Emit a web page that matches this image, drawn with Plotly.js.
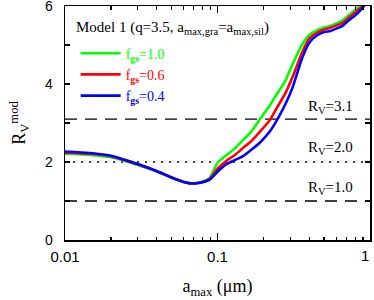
<!DOCTYPE html>
<html>
<head>
<meta charset="utf-8">
<script src="https://cdn.plot.ly/plotly-3.0.1.min.js"></script>
<style>html,body{margin:0;padding:0;background:#fff;overflow:hidden;}#plot{width:374px;height:300px;}</style>
</head>
<body>
<div id="plot"></div>
<script>
// a_max values (micron)
const amax = [0.01, 0.0146, 0.02, 0.025, 0.03, 0.036, 0.042, 0.051, 0.06, 0.069, 0.078, 0.089,
  0.1, 0.115, 0.13, 0.147, 0.165, 0.19, 0.22, 0.246, 0.28, 0.31, 0.36, 0.40, 0.45, 0.50,
  0.55, 0.60, 0.66, 0.72, 0.80, 0.87, 1.0];
const rvF10 = [2.21, 2.18, 2.12, 2.02, 1.92, 1.82, 1.72, 1.58, 1.49, 1.45, 1.49, 1.60,
  1.98, 2.18, 2.35, 2.56, 2.76, 3.10, 3.45, 3.75, 4.10, 4.50, 5.02, 5.26, 5.38, 5.45,
  5.49, 5.55, 5.63, 5.75, 5.90, 6.02, 6.30];
const rvF06 = [2.24, 2.21, 2.15, 2.04, 1.94, 1.83, 1.73, 1.59, 1.49, 1.45, 1.48, 1.57,
  1.83, 2.04, 2.18, 2.36, 2.52, 2.78, 3.07, 3.40, 3.78, 4.17, 4.82, 5.17, 5.32, 5.40,
  5.44, 5.50, 5.57, 5.69, 5.84, 5.96, 6.25];
const rvF04 = [2.27, 2.23, 2.16, 2.05, 1.95, 1.84, 1.73, 1.59, 1.49, 1.45, 1.47, 1.55,
  1.75, 1.95, 2.05, 2.15, 2.30, 2.50, 2.78, 3.08, 3.50, 3.90, 4.68, 5.06, 5.25, 5.33,
  5.36, 5.42, 5.49, 5.62, 5.76, 5.90, 6.20];
const refLevels = [3.1, 2.0, 1.0];
const refLabels = ['R<sub>V</sub>=3.1', 'R<sub>V</sub>=2.0', 'R<sub>V</sub>=1.0'];
const refDash = ['12px,8px', '2px,6px', '12px,8px'];
const seriesNames = ['f<sub><b>gs</b></sub>=1.0', 'f<sub><b>gs</b></sub>=0.6', 'f<sub><b>gs</b></sub>=0.4'];
const seriesColors = ['#00ff00', '#ff0000', '#0000ff'];
const xTickVals = [0.01, 0.1, 1];
const xTickText = ['0.01', '0.1', '1'];
const xMinor = [0.02,0.03,0.04,0.05,0.06,0.07,0.08,0.09,0.2,0.3,0.4,0.5,0.6,0.7,0.8,0.9];

const serif = 'Liberation Serif, Times New Roman, serif';
const sans = 'Liberation Sans, Arial, sans-serif';

const traces = [];
// reference lines
refLevels.forEach((v, i) => {
  traces.push({x: [0.01, 1], y: [v, v], mode: 'lines', showlegend: false, hoverinfo: 'skip',
    line: {color: '#000', width: 1.3, dash: refDash[i]}});
});
[rvF10, rvF06, rvF04].forEach((ys, i) => {
  traces.push({x: amax, y: ys, mode: 'lines', name: '<span style="color:' + seriesColors[i] + '">' + seriesNames[i] + '</span>',
    line: {color: seriesColors[i], width: 2.6, shape: 'spline', smoothing: 0.6}});
});

const annotations = refLevels.map((v, i) => ({
  xref: 'paper', yref: 'y', x: 0.869, y: v + [0.3, 0.36, 0.34][i], xanchor: 'center', yanchor: 'middle',
  text: refLabels[i], showarrow: false,
  font: {family: serif, size: 15, color: '#000'}
}));
annotations.push({xref: 'paper', yref: 'paper', x: 0.03, y: 0.905, xanchor: 'left', yanchor: 'middle',
  text: 'Model 1 (q=3.5, a<sub>max,gra</sub>=a<sub>max,sil</sub>)', showarrow: false,
  font: {family: serif, size: 15, color: '#000'}});
// last x tick label near the right end of the axis
annotations.push({xref: 'paper', yref: 'paper', x: 0.985, y: -0.068,
  xanchor: 'center', yanchor: 'middle', text: xTickText[2], showarrow: false,
  font: {family: sans, size: 15, color: '#000'}});

const layout = {
  width: 374, height: 300,
  margin: {l: 65, r: 4, t: 6, b: 60},
  paper_bgcolor: '#fff', plot_bgcolor: '#fff',
  showlegend: true,
  legend: {x: 0.035, y: 0.865, xanchor: 'left', yanchor: 'top', bgcolor: 'rgba(0,0,0,0)',
    font: {family: serif, size: 14}, tracegroupgap: 0, itemwidth: 40},
  xaxis: {type: 'log', range: [-2, 0], showgrid: false, zeroline: false,
    showline: true, linecolor: '#000', linewidth: 1.5, mirror: 'ticks',
    ticks: 'inside', ticklen: 7, tickwidth: 1.2, tickcolor: '#000',
    tickvals: xTickVals, ticktext: [xTickText[0], xTickText[1], ''], ticklabeloverflow: 'allow', ticklabelstandoff: 2,
    tickfont: {family: sans, size: 15, color: '#000'},
    minor: {tickvals: xMinor, ticks: 'inside', ticklen: 3.5, tickwidth: 1.2, tickcolor: '#000', showgrid: false},
    title: {text: 'a<sub>max</sub> (μm)', font: {family: serif, size: 18, color: '#000'}, standoff: 16}},
  yaxis: {range: [0, 6], showgrid: false, zeroline: false,
    showline: true, linecolor: '#000', linewidth: 1.5, mirror: 'ticks',
    ticks: 'inside', ticklen: 5, tickwidth: 1.2, tickcolor: '#000',
    tickvals: [0, 2, 4, 6], ticklabeloverflow: 'allow', ticklabelstandoff: 8,
    tickfont: {family: sans, size: 14, color: '#000'},
    minor: {tickvals: [1, 3, 5], ticks: 'inside', ticklen: 5, tickwidth: 1.2, tickcolor: '#000', showgrid: false},
    title: {text: 'R<sub>V</sub><sup>mod</sup>', font: {family: serif, size: 18, color: '#000'}, standoff: 14}},
  annotations: annotations
};

Plotly.newPlot('plot', traces, layout, {staticPlot: true, displayModeBar: false});
</script>
</body>
</html>
